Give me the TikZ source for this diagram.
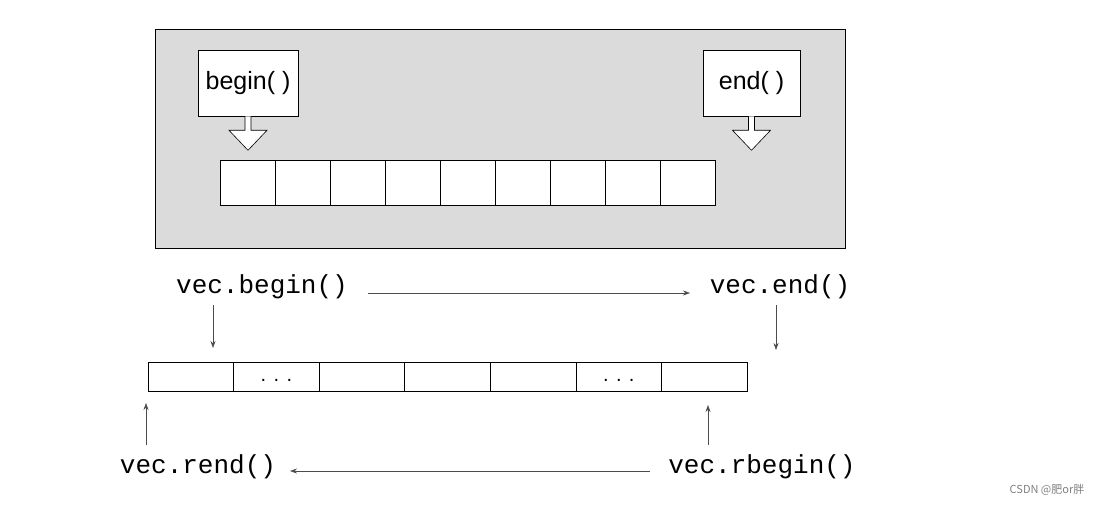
\documentclass[tikz,border=0pt]{standalone}
\usepackage{fontspec}
\setmainfont{Liberation Sans}
\setmonofont{Liberation Mono}
\newfontfamily\cjk{Noto Sans CJK SC}
\usetikzlibrary{arrows.meta,positioning}

\begin{document}
\begin{tikzpicture}[x=1pt,y=-1pt,>={Stealth[length=7pt,width=5pt]},semithick,
    cell/.style={draw,fill=white,minimum width=55pt,minimum height=45pt,inner sep=0pt},
    lcell/.style={draw,thick,minimum width=85.6pt,minimum height=29pt,inner sep=0pt},
    tag/.style={draw,fill=white,minimum width=100pt,minimum height=66pt,font=\fontsize{25}{27}\selectfont},
    code/.style={font=\ttfamily\fontsize{26}{28}\selectfont,inner sep=0pt},
    hollow/.style={draw,fill=white}]
  \useasboundingbox (0,0) rectangle (1107,505);
  % top panel
  \draw[fill=black!14] (155,29) rectangle (845,248);
  \node[tag] (b) at (248,83) {begin( )};
  \node[tag,minimum width=97pt] (e) at (751.5,83) {end( )};
  \foreach \i in {0,...,8}
    \node[cell] (c\i) at (247.5+55*\i,182.5) {};
  % hollow arrows
  \foreach \t in {b,e}
    \draw[hollow] ([xshift=-3pt]\t.south) -- ++(0,14) -- ++(-16,0) -- ++(19,20)
      -- ++(19,-20) -- ++(-16,0) -- ++(0,-14);
  % bottom vector
  \foreach \i in {0,...,6}
    \node[lcell] (v\i) at (190.8+85.6*\i,376.5) {};
  \node[font=\fontsize{20}{20}\selectfont] at ([yshift=-4pt]v1) {. . .};
  \node[font=\fontsize{20}{20}\selectfont] at ([yshift=-4pt]v5) {. . .};
  \node[code] (vb) at (262,287) {vec.begin()};
  \node[code] (ve) at (780,287) {vec.end()};
  \node[code] (vre) at (198,467) {vec.rend()};
  \node[code] (vrb) at (762,467) {vec.rbegin()};
  \coordinate (p1) at (213,305); \coordinate (q1) at (213,348);
  \coordinate (p2) at (776,305); \coordinate (q2) at (776,350);
  \coordinate (p3) at (146,445); \coordinate (q3) at (146,403);
  \coordinate (p4) at (708,445); \coordinate (q4) at (708,405);
  \draw[->,gray!60!black] (368,293) -- (690,293);
  \draw[->,gray!60!black] (650,471) -- (290,471);
  \foreach \k in {1,...,4}
    \draw[->,gray!60!black] (p\k) -- (q\k);
  \node[text=gray,font=\cjk\fontsize{11}{11}\selectfont] (wm) at (1047,490) {CSDN @肥or胖};
\end{tikzpicture}
\end{document}
